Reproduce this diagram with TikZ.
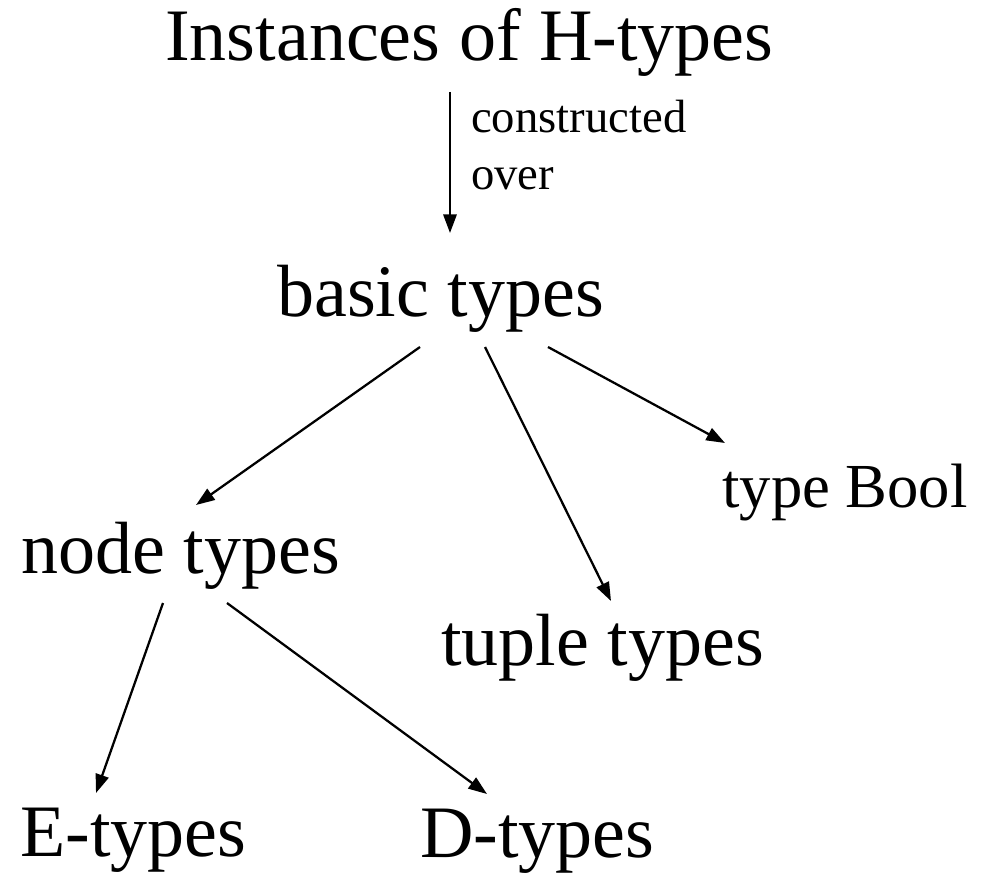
\documentclass[tikz,border=0pt]{standalone}
\usepackage{fontspec}
\setmainfont{Liberation Serif}
\usetikzlibrary{arrows.meta}
\begin{document}
\begin{tikzpicture}[x=0.75pt,y=-0.75pt,
  big/.style={inner sep=0pt,anchor=base west,font=\fontsize{55.5}{60}\selectfont},
  mid/.style={inner sep=0pt,anchor=base west,font=\fontsize{47}{52}\selectfont},
  lbl/.style={inner sep=0pt,anchor=north west,align=left,font=\fontsize{35}{42.75}\selectfont},
  arr/.style={line width=1.7pt,-{Triangle[length=14pt,width=10pt]}}]
\useasboundingbox (0,0) rectangle (989,874);
\node[big] (inst) at (165,61) {Instances of H-types};
\node[big] (basic) at (277,316) {basic types};
\node[mid] (bool) at (722,507) {type Bool};
\node[big] (nodet) at (21,573) {node types};
\node[big] (tuple) at (441,665) {tuple types};
\node[big] (et) at (20,856) {E-types};
\node[big] (dt) at (420,857) {D-types};
\node[lbl] (cons) at (471,100) {constructed\\over};
\draw[arr] ([shift={(285,31)}]inst.base west) -- ([shift={(173,-83)}]basic.base west);
\draw[arr] ([shift={(143,31)}]basic.base west) -- ([shift={(175,-68)}]nodet.base west);
\draw[arr] ([shift={(208,31)}]basic.base west) -- ([shift={(170,-64)}]tuple.base west);
\draw[arr] ([shift={(271,31)}]basic.base west) -- ([shift={(3,-64)}]bool.base west);
\draw[arr] ([shift={(142,30)}]nodet.base west) -- ([shift={(76,-63)}]et.base west);
\draw[arr] ([shift={(206,30)}]nodet.base west) -- ([shift={(67,-63)}]dt.base west);
\end{tikzpicture}
\end{document}
